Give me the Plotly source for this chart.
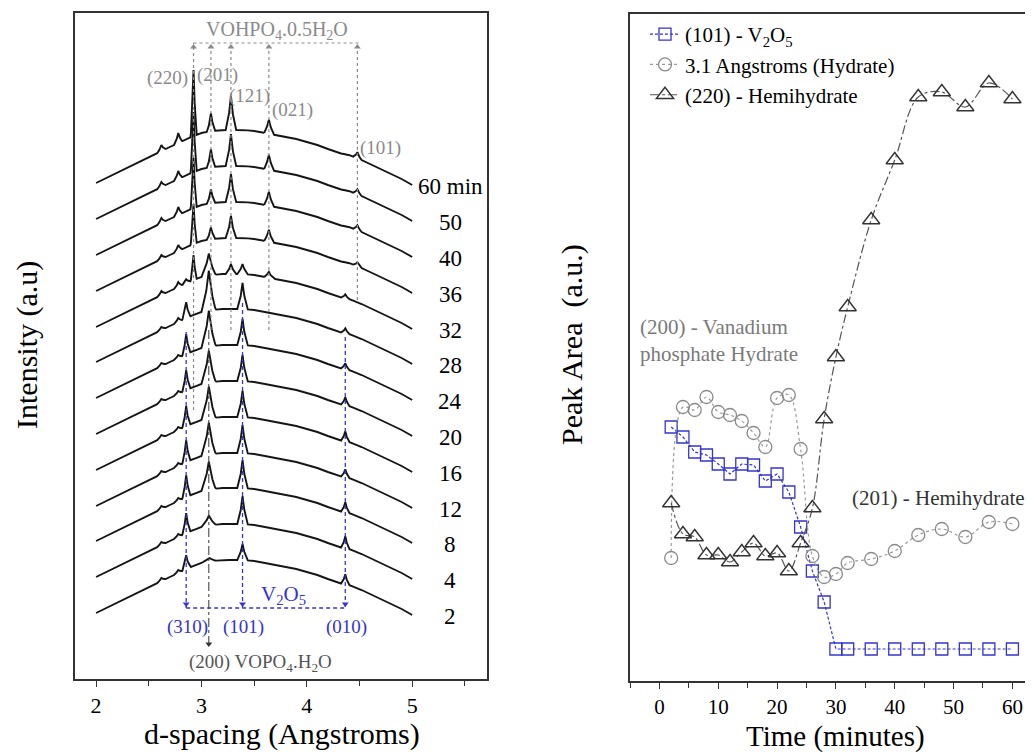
import numpy as np
import plotly.graph_objects as go

# ---------------- Left panel data (XRD stack) ----------------
scan_labels = ["2", "4", "8", "12", "16", "20", "24", "28", "32", "36", "40", "50", "60 min"]
scan_offsets = [66, 102, 138, 173, 209, 245, 281, 317, 352, 388, 424, 460, 496]

base_d = [2.0, 2.1, 2.2, 2.3, 2.4, 2.5, 2.6, 2.7, 2.8, 2.9, 3.0, 3.1, 3.2, 3.3, 3.4, 3.5,
          3.6, 3.7, 3.8, 3.9, 4.0, 4.1, 4.2, 4.3, 4.4, 4.5, 4.6, 4.7, 4.8, 4.9, 5.0]
base_y = [0, 5, 10, 15, 20, 25, 31, 36, 41, 46, 50, 52, 53, 53, 53, 52,
          50, 48, 46, 44, 41, 38, 34, 30, 28, 24, 19, 14, 9, 4, -2]

# peak positions (Angstrom) and widths
peak_pos = [2.855, 3.39, 4.365, 3.07, 2.925, 3.09, 3.28, 3.64, 4.48, 2.78, 2.62]
peak_width = [0.04, 0.05, 0.04, 0.07, 0.03, 0.04, 0.05, 0.05, 0.04, 0.04, 0.04]
# heights per scan (2,4,8,12,16,20,24,28,32,36,40,50,60 min)
h_v310 = [14, 20, 22, 22, 20, 20, 20, 16, 4, 0, 0, 0, 0]
h_v101 = [16, 28, 28, 28, 26, 26, 26, 26, 10, 0, 0, 0, 0]
h_v010 = [10, 12, 10, 8, 10, 8, 6, 5, 4, 0, 0, 0, 0]
h_p200 = [4, 10, 28, 32, 32, 32, 36, 40, 22, 0, 0, 0, 0]
h_h220 = [0, 0, 0, 0, 0, 0, 0, 0, 25, 40, 50, 60, 66]
h_h201 = [0, 0, 0, 0, 0, 0, 0, 0, 0, 12, 14, 18, 18]
h_h121 = [0, 0, 0, 0, 0, 0, 0, 0, 10, 22, 28, 32, 34]
h_h021 = [0, 0, 0, 0, 0, 0, 0, 0, 6, 12, 14, 15, 14]
h_h101 = [0, 0, 0, 0, 0, 0, 0, 0, 0, 4, 5, 5, 6]
h_s278 = [3, 3, 3, 3, 3, 3, 3, 4, 5, 6, 8, 8, 10]
h_s262 = [3, 3, 3, 3, 3, 3, 3, 3, 4, 4, 5, 5, 6]
peak_heights = [h_v310, h_v101, h_v010, h_p200, h_h220, h_h201, h_h121, h_h021, h_h101, h_s278, h_s262]

hemi_pos = [2.925, 3.09, 3.28, 3.64, 4.48]
hemi_labels = ["(220)", "(201)", "(121)", "(021)", "(101)"]
hemi_line_bottom = [269, 349, 349, 349, 379]
hemi_label_xy = [(2.675, 601), (3.15, 604), (3.46, 583), (3.86, 569), (4.70, 531)]
v2o5_pos = [2.855, 3.39, 4.365]
v2o5_labels = ["(310)", "(101)", "(010)"]
v2o5_line_top = [347, 376, 342]
vopo_pos = 3.07

# ---------------- Right panel data ----------------
t_min = [2, 4, 6, 8, 10, 12, 14, 16, 18, 20, 22, 24, 26, 28, 30, 32, 36, 40, 44, 48, 52, 56, 60]
area_v2o5 = [254, 244, 229, 226, 217, 207, 217, 216, 200, 207, 189, 154, 110, 79, 32, 32, 32, 32, 32, 32, 32, 32, 32]
area_hydrate = [123, 274, 271, 284, 269, 266, 260, 248, 234, 283, 286, 232, 125, 104, 107, 118, 122, 130, 146, 152, 144, 159, 157]
area_hemi = [178, 147, 144, 126, 126, 119, 129, 138, 125, 128, 110, 138, 173, 262, 324, 374, 461, 521, 584, 589, 574, 598, 582]

FONT = "Liberation Serif"
GREY = "#8a8a8a"
BLUE = "#3434d0"

# page body margin is 8px; figure is laid out in window pixels minus that margin
OFF = 8
W, H = 1033 - OFF, 754 - OFF


def px(p):
    return (p - OFF) / W


def py(p):
    return 1 - (p - OFF) / H


fig = go.Figure()

# build XRD curves
for k, lab in enumerate(scan_labels):
    xs = set(round(v, 4) for v in base_d)
    for p, w in zip(peak_pos, peak_width):
        for f in (-1.0, -0.35, 0.0, 0.35, 1.0):
            xs.add(round(p + f * w, 4))
    xs = np.array(sorted(xs))
    ys = np.interp(xs, base_d, base_y) + scan_offsets[k]
    for p, w, hts in zip(peak_pos, peak_width, peak_heights):
        u = np.clip(1 - np.abs(xs - p) / w, 0, None)
        ys = ys + hts[k] * u ** 1.6
    fig.add_trace(go.Scatter(x=xs, y=ys, mode="lines", line=dict(color="#151515", width=1.9),
                             showlegend=False, xaxis="x", yaxis="y", hoverinfo="skip"))
    fig.add_annotation(x=5.36, y=scan_offsets[k] - 3, text=lab, showarrow=False, xref="x", yref="y",
                       font=dict(family=FONT, size=23, color="black"))

# hemihydrate reference lines (grey dotted)
for p, yb in zip(hemi_pos, hemi_line_bottom):
    fig.add_shape(type="line", x0=p, x1=p, y0=yb, y1=636, xref="x", yref="y",
                  line=dict(color=GREY, width=1.2, dash="dot"))
fig.add_shape(type="line", x0=hemi_pos[0], x1=4.52, y0=636, y1=636, xref="x", yref="y",
              line=dict(color=GREY, width=1.2, dash="dot"))
fig.add_trace(go.Scatter(x=hemi_pos, y=[632] * len(hemi_pos), mode="markers",
                         marker=dict(symbol="triangle-up", size=6, color=GREY),
                         showlegend=False, xaxis="x", yaxis="y", hoverinfo="skip"))
for lab, (lx, ly) in zip(hemi_labels, hemi_label_xy):
    fig.add_annotation(x=lx, y=ly, text=lab, showarrow=False, xref="x", yref="y",
                       font=dict(family=FONT, size=19, color=GREY))
fig.add_annotation(x=3.72, y=649, text="VOHPO<sub>4</sub>.0.5H<sub>2</sub>O", showarrow=False,
                   xref="x", yref="y", font=dict(family=FONT, size=20, color=GREY))

# V2O5 lines (blue dashed)
for p, yt in zip(v2o5_pos, v2o5_line_top):
    fig.add_shape(type="line", x0=p, x1=p, y0=yt, y1=71, xref="x", yref="y",
                  line=dict(color=BLUE, width=1.3, dash="4px,3px"))
fig.add_shape(type="line", x0=v2o5_pos[0], x1=v2o5_pos[-1], y0=71, y1=71, xref="x", yref="y",
              line=dict(color=BLUE, width=1.3, dash="4px,3px"))
fig.add_trace(go.Scatter(x=v2o5_pos, y=[75] * 3, mode="markers",
                         marker=dict(symbol="triangle-down", size=6, color=BLUE),
                         showlegend=False, xaxis="x", yaxis="y", hoverinfo="skip"))
for p, lab in zip(v2o5_pos, v2o5_labels):
    fig.add_annotation(x=p + 0.01, y=52, text=lab, showarrow=False, xref="x", yref="y",
                       font=dict(family=FONT, size=19, color=BLUE))
fig.add_annotation(x=3.78, y=84, text="V<sub>2</sub>O<sub>5</sub>", showarrow=False, xref="x", yref="y",
                   font=dict(family=FONT, size=21, color=BLUE))

# VOPO4.H2O line (dash-dot)
fig.add_shape(type="line", x0=vopo_pos, x1=vopo_pos, y0=349, y1=31, xref="x", yref="y",
              line=dict(color="#333333", width=1.0, dash="dashdot"))
fig.add_trace(go.Scatter(x=[vopo_pos], y=[35], mode="markers",
                         marker=dict(symbol="triangle-down", size=6, color="#333333"),
                         showlegend=False, xaxis="x", yaxis="y", hoverinfo="skip"))
fig.add_annotation(x=3.56, y=16, text="(200) VOPO<sub>4</sub>.H<sub>2</sub>O", showarrow=False,
                   xref="x", yref="y", font=dict(family=FONT, size=19, color="#555555"))

# ---------------- Right panel traces ----------------
fig.add_trace(go.Scatter(x=t_min, y=area_v2o5, mode="lines+markers", name="(101) - V<sub>2</sub>O<sub>5</sub>",
                         line=dict(color=BLUE, width=1.2, dash="3px,2px"),
                         marker=dict(symbol="square-open", size=12, color=BLUE, line=dict(width=1.3)),
                         xaxis="x2", yaxis="y2"))
fig.add_trace(go.Scatter(x=t_min, y=area_hydrate, mode="lines+markers", name="3.1 Angstroms (Hydrate)",
                         line=dict(color="#9a9a9a", width=1.2, dash="dot", shape="spline"),
                         marker=dict(symbol="circle-open", size=13, color="#8a8a8a", line=dict(width=1.3)),
                         xaxis="x2", yaxis="y2"))
fig.add_trace(go.Scatter(x=t_min, y=area_hemi, mode="lines+markers", name="(220) - Hemihydrate",
                         line=dict(color="#555555", width=1.2, dash="dashdot", shape="spline"),
                         marker=dict(symbol="triangle-up-open", size=15, color="#333333", line=dict(width=1.4)),
                         xaxis="x2", yaxis="y2"))

fig.add_annotation(x=-3.6, y=341, text="(200) - Vanadium<br>phosphate Hydrate", showarrow=False,
                   xref="x2", yref="y2", xanchor="left", align="left",
                   font=dict(family=FONT, size=21, color="#7a7a7a"))
fig.add_annotation(x=32.4, y=183, text="(201) - Hemihydrate", showarrow=False,
                   xref="x2", yref="y2", xanchor="left",
                   font=dict(family=FONT, size=21, color="#333333"))

# axis titles
fig.add_annotation(x=px(282), y=py(734), xref="paper", yref="paper", text="d-spacing (Angstroms)",
                   xanchor="center", yanchor="middle", showarrow=False,
                   font=dict(family=FONT, size=30, color="black"))
fig.add_annotation(x=px(835), y=py(736), xref="paper", yref="paper", text="Time (minutes)",
                   xanchor="center", yanchor="middle", showarrow=False,
                   font=dict(family=FONT, size=29, color="black"))
fig.add_annotation(x=px(27), y=py(345), xref="paper", yref="paper", text="Intensity (a.u)",
                   xanchor="center", yanchor="middle", showarrow=False, textangle=-90,
                   font=dict(family=FONT, size=30, color="black"))
fig.add_annotation(x=px(572), y=py(345), xref="paper", yref="paper", text="Peak Area  (a.u.)",
                   xanchor="center", yanchor="middle", showarrow=False, textangle=-90,
                   font=dict(family=FONT, size=30, color="black"))

axis_common = dict(showgrid=False, zeroline=False, showline=True, linecolor="#333333", linewidth=1.6)
fig.update_layout(
    width=W, height=H, margin=dict(l=0, r=0, t=0, b=0),
    paper_bgcolor="white", plot_bgcolor="white",
    font=dict(family=FONT, color="black"),
    xaxis=dict(domain=[px(75), px(487)], range=[1.8, 5.71], mirror=True,
               ticks="outside", ticklen=6, tickwidth=1.4, tickcolor="#333333", dtick=1, tick0=2,
               tickfont=dict(family=FONT, size=22),
               minor=dict(ticks="outside", ticklen=5, tickwidth=1.2, tickcolor="#333333", dtick=0.5),
               anchor="y", **axis_common),
    yaxis=dict(domain=[py(679), py(13)], range=[0, 666], mirror=True, showticklabels=False,
               ticks="", anchor="x", **axis_common),
    xaxis2=dict(domain=[px(630), 1.0], range=[-5, 63.5], mirror=True,
                ticks="outside", ticklen=6, tickwidth=1.4, tickcolor="#333333", dtick=10, tick0=0,
                tickfont=dict(family=FONT, size=21),
                minor=dict(ticks="outside", ticklen=5, tickwidth=1.2, tickcolor="#333333", dtick=5),
                anchor="y2", **axis_common),
    yaxis2=dict(domain=[py(681), py(14)], range=[0, 667], showticklabels=False,
                ticks="", anchor="x2", **axis_common),
    legend=dict(x=px(645), y=py(14), xanchor="left", yanchor="top",
                font=dict(family=FONT, size=21, color="black"), bgcolor="rgba(0,0,0,0)",
                tracegroupgap=0, itemwidth=30),
)

fig.write_html("out.html")
